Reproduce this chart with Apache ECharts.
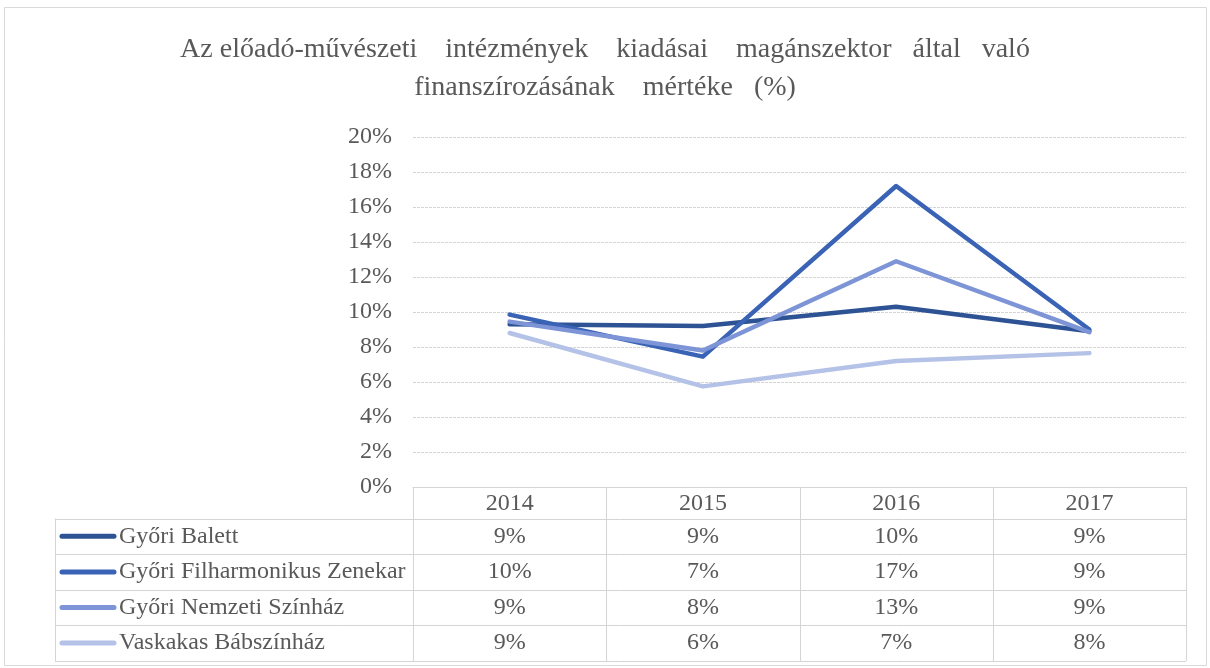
<!DOCTYPE html>
<html>
<head>
    <meta charset="utf-8">
    <title>Magánszektor finanszírozás</title>
    <script src="https://cdn.jsdelivr.net/npm/echarts@6/dist/echarts.min.js"></script>
    <style>
        html, body { margin: 0; padding: 0; background: #fff; }
    </style>
</head>
<body>

<div id="main" style="width: 1210px;height:668px;"></div>

<script type="text/javascript">

    // adatok
    var years = ['2014', '2015', '2016', '2017'];
    var names = ['Győri Balett', 'Győri Filharmonikus Zenekar', 'Győri Nemzeti Színház', 'Vaskakas Bábszínház'];
    var balett = [9.3, 9.2, 10.3, 8.9];
    var filharmonikus = [9.85, 7.45, 17.2, 9.0];
    var nemzeti = [9.45, 7.8, 12.9, 8.85];
    var vaskakas = [8.8, 5.75, 7.2, 7.65];
    var colors = ['#2d5394', '#3a63b6', '#7d95d7', '#b5c2e8'];

    var values = [balett, filharmonikus, nemzeti, vaskakas];
    var font = 'Liberation Serif';
    var textColor = '#595959';
    var lineColor = '#d4d4d4';

    var myChart = echarts.init(document.getElementById('main'));

    var series = names.map(function (n, i) {
        return {
            name: n,
            type: 'line',
            data: values[i],
            symbol: 'none',
            lineStyle: { color: colors[i], width: 4.5, cap: 'round', join: 'round' },
            z: 2 + i
        };
    });

    myChart.setOption({
        animation: false,
        title: {
            text: 'Az előadó-művészeti    intézmények    kiadásai    magánszektor   által   való\nfinanszírozásának    mértéke   (%)',
            left: 'center',
            top: 31,
            padding: 0,
            textStyle: {
                fontFamily: font,
                fontSize: 28,
                fontWeight: 'normal',
                color: textColor,
                lineHeight: 38
            }
        },
        grid: {
            left: 413,
            right: 24,
            top: 137,
            bottom: 181
        },
        xAxis: {
            type: 'category',
            data: years,
            boundaryGap: true,
            axisLine: { lineStyle: { color: lineColor } },
            axisTick: { show: false },
            axisLabel: {
                margin: 5,
                fontFamily: font,
                fontSize: 24,
                color: textColor
            }
        },
        yAxis: {
            type: 'value',
            min: 0,
            max: 20,
            interval: 2,
            axisLine: { show: false },
            axisTick: { show: false },
            axisLabel: {
                formatter: '{value}%',
                margin: 21,
                fontFamily: font,
                fontSize: 24,
                color: textColor
            },
            splitLine: { lineStyle: { color: lineColor, type: [3, 1] } }
        },
        series: series
    });

    // adattábla a grafikon alatt
    var headerH = 31.5, rowH = 35.6, legendLeft = 55;
    var y0 = myChart.convertToPixel({ yAxisIndex: 0 }, 0);
    var xs = years.map(function (y, i) { return myChart.convertToPixel({ xAxisIndex: 0 }, i); });
    var band = xs[1] - xs[0];
    var left = xs[0] - band / 2, right = xs[xs.length - 1] + band / 2;
    var bottom = y0 + headerH + rowH * names.length;

    var els = [];
    // külső keret
    els.push({
        type: 'rect',
        shape: { x: 4.5, y: 7.5, width: 1202, height: 658 },
        style: { fill: 'none', stroke: '#d9d9d9', lineWidth: 1 }
    });
    function line(x1, y1, x2, y2) {
        els.push({
            type: 'line',
            shape: { x1: x1, y1: y1, x2: x2, y2: y2 },
            style: { stroke: lineColor, lineWidth: 1 }
        });
    }
    for (var c = 0; c <= years.length; c++) {
        var bx = Math.round(left + band * c) + 0.5;
        line(bx, y0, bx, bottom);
    }
    line(legendLeft + 0.5, y0 + headerH, legendLeft + 0.5, bottom);
    for (var r = 0; r <= names.length; r++) {
        var by = Math.round(y0 + headerH + rowH * r) + 0.5;
        line(legendLeft, by, right, by);
    }
    names.forEach(function (n, i) {
        var cy = y0 + headerH + rowH * (i + 0.5);
        els.push({
            type: 'line',
            shape: { x1: 62, y1: cy, x2: 114, y2: cy },
            style: { stroke: colors[i], lineWidth: 5, lineCap: 'round' }
        });
        els.push({
            type: 'text',
            x: 119, y: cy,
            style: { text: n, font: '24px "' + font + '"', fill: textColor, verticalAlign: 'middle', align: 'left' }
        });
        values[i].forEach(function (v, j) {
            els.push({
                type: 'text',
                x: xs[j], y: cy,
                style: { text: Math.round(v) + '%', font: '24px "' + font + '"', fill: textColor, verticalAlign: 'middle', align: 'center' }
            });
        });
    });

    myChart.setOption({ graphic: { elements: els } });

</script>
</body>
</html>
